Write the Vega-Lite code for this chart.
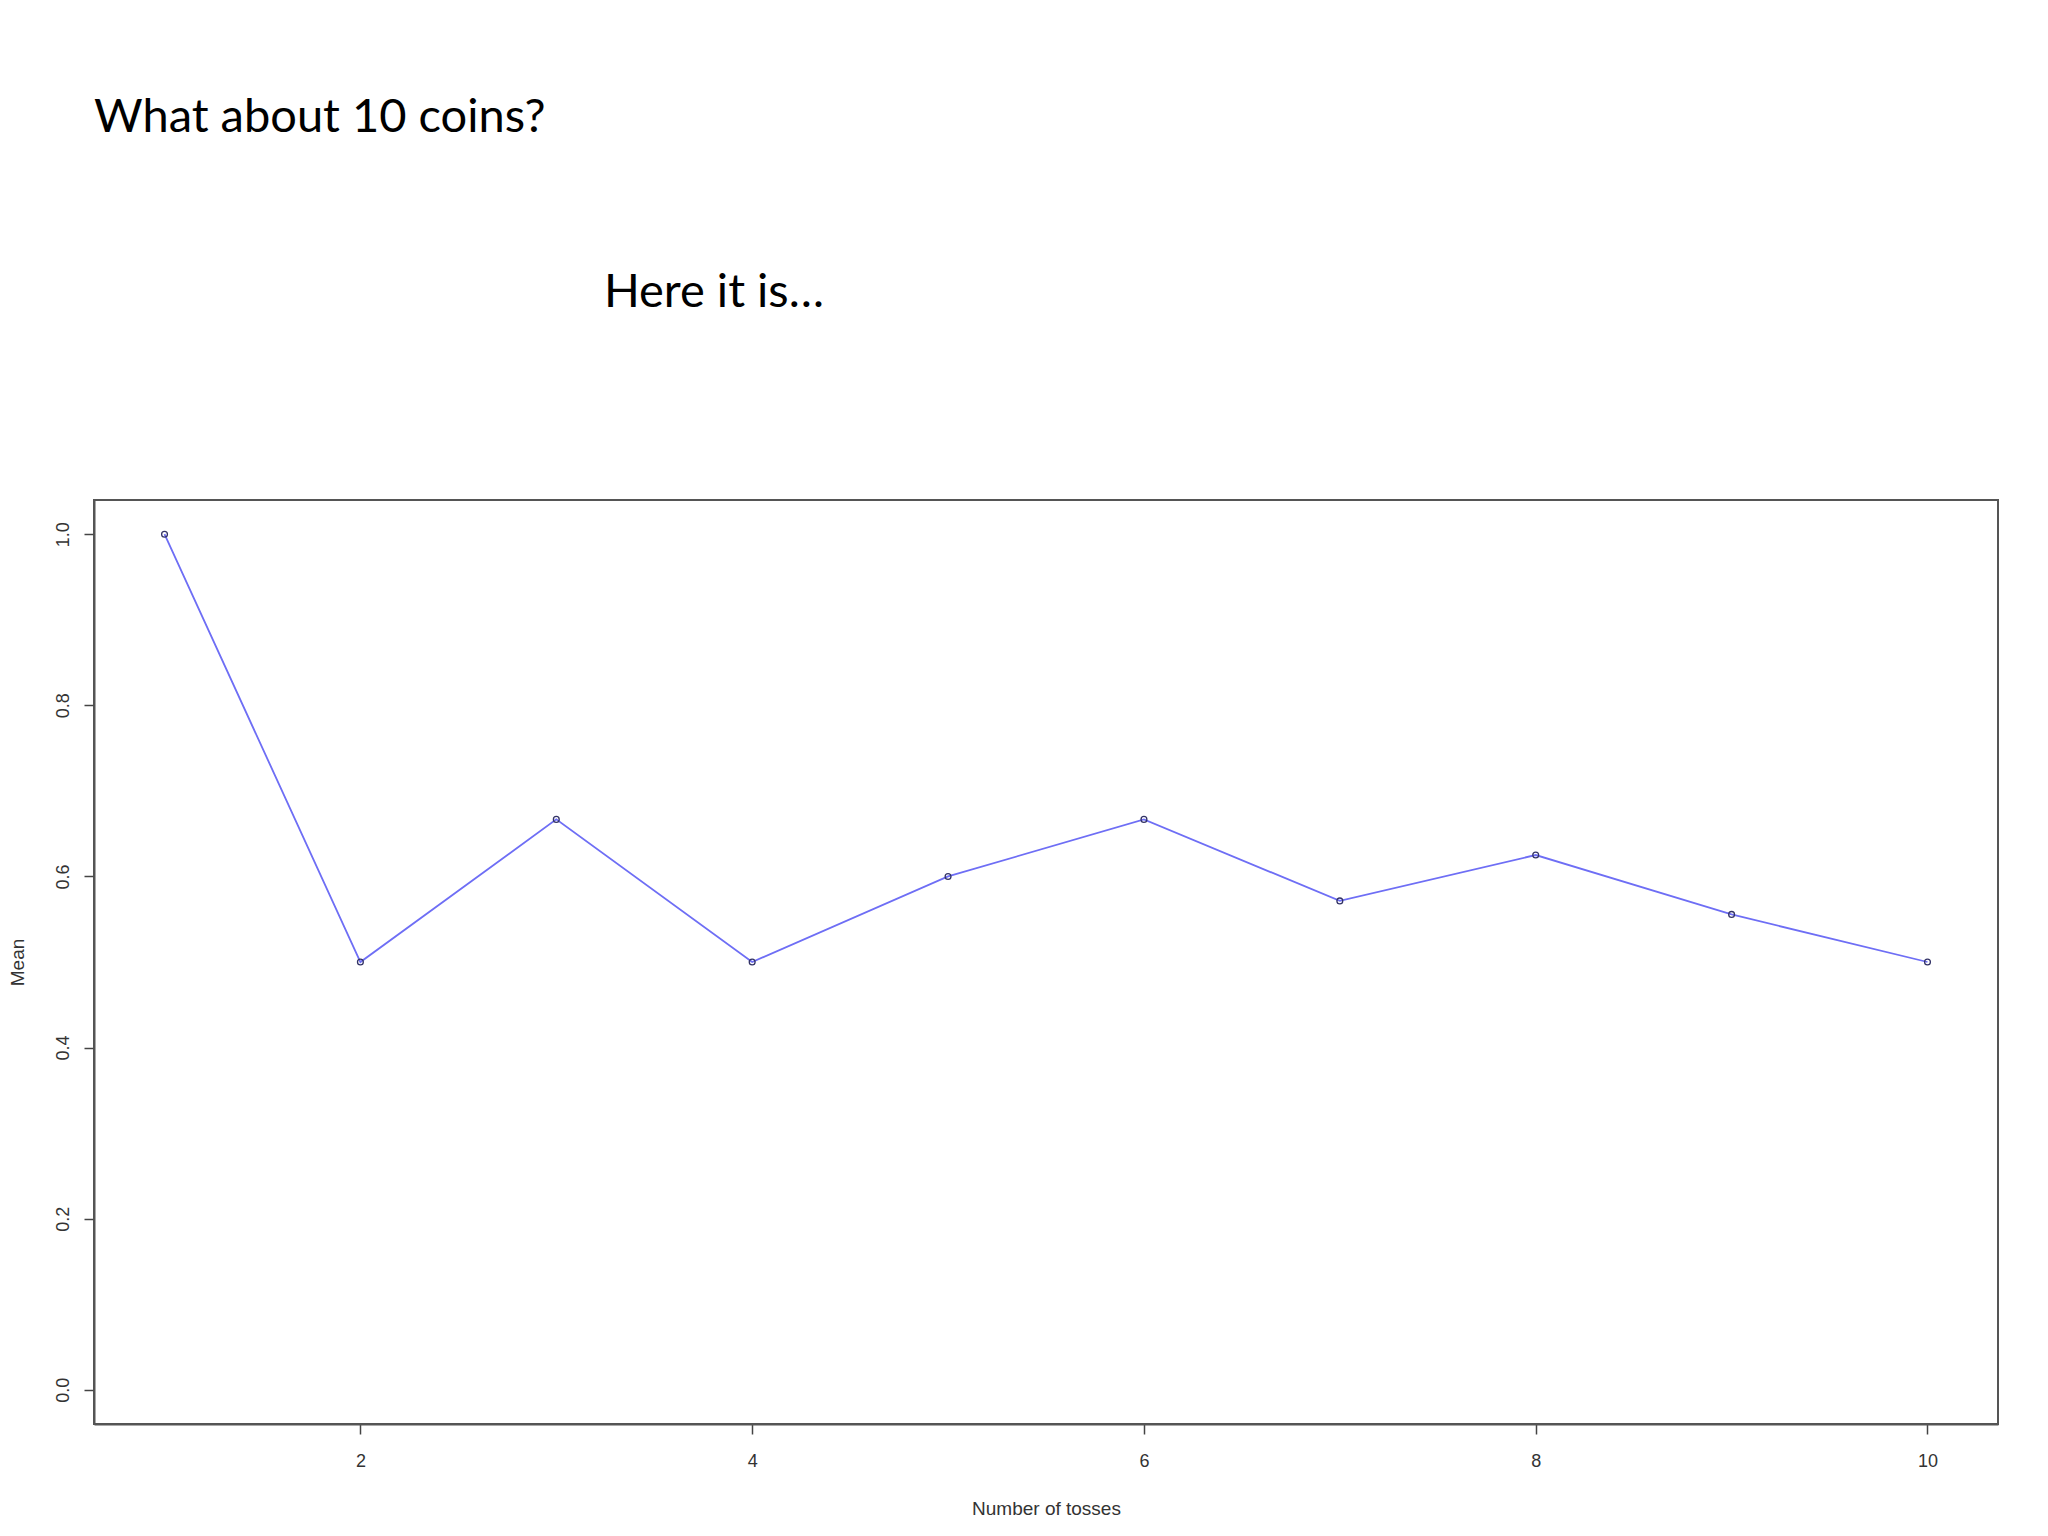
{
  "$schema": "https://vega.github.io/schema/vega-lite/v6.json",
  "autosize": "none",
  "padding": {"left": 94, "top": 500, "right": 50, "bottom": 112},
  "width": 1904,
  "height": 924,
  "background": "white",
  "title": {"text": "What about 10 coins?", "anchor": "start", "frame": "group", "font": "Lato", "fontSize": 47, "fontWeight": "normal", "color": "black", "baseline": "alphabetic", "offset": 90},
  "config": {
    "view": {"stroke": "#555555", "strokeWidth": 2},
    "axis": {"grid": false, "domainColor": "#555555", "domainWidth": 2, "tickColor": "#444444", "tickWidth": 1.5, "tickSize": 10, "labelFont": "Liberation Sans", "labelFontSize": 18, "labelColor": "#333333", "titleFont": "Liberation Sans", "titleFontSize": 19, "titleFontWeight": "normal", "titleColor": "#333333"}
  },
  "layer": [
    {
      "data": {"values": [
        {"tosses": 1, "mean": 1.0},
        {"tosses": 2, "mean": 0.5},
        {"tosses": 3, "mean": 0.6667},
        {"tosses": 4, "mean": 0.5},
        {"tosses": 5, "mean": 0.6},
        {"tosses": 6, "mean": 0.6667},
        {"tosses": 7, "mean": 0.5714},
        {"tosses": 8, "mean": 0.625},
        {"tosses": 9, "mean": 0.5556},
        {"tosses": 10, "mean": 0.5}
      ]},
      "encoding": {
        "x": {"field": "tosses", "type": "quantitative", "scale": {"domain": [0.64, 10.36], "nice": false, "zero": false},
              "axis": {"values": [2, 4, 6, 8, 10], "format": "d", "labelPadding": 18, "title": "Number of tosses", "titlePadding": 29}},
        "y": {"field": "mean", "type": "quantitative", "scale": {"domain": [-0.04, 1.04], "nice": false, "zero": false},
              "axis": {"values": [0, 0.2, 0.4, 0.6, 0.8, 1.0], "format": ".1f", "labelAngle": -90, "labelPadding": 12, "title": "Mean", "titlePadding": 27}}
      },
      "layer": [
        {"mark": {"type": "line", "color": "#6e6ef5", "strokeWidth": 1.8}},
        {"mark": {"type": "point", "shape": "circle", "size": 34, "filled": false, "stroke": "#333366", "strokeWidth": 1.3, "opacity": 1}}
      ]
    },
    {
      "data": {"values": [{"note": "Here it is…"}]},
      "mark": {"type": "text", "font": "Lato", "fontSize": 47, "fill": "black", "align": "left", "baseline": "alphabetic", "clip": false},
      "encoding": {
        "x": {"datum": 3.243},
        "y": {"datum": 1.266},
        "text": {"field": "note", "type": "nominal"}
      }
    }
  ]
}
